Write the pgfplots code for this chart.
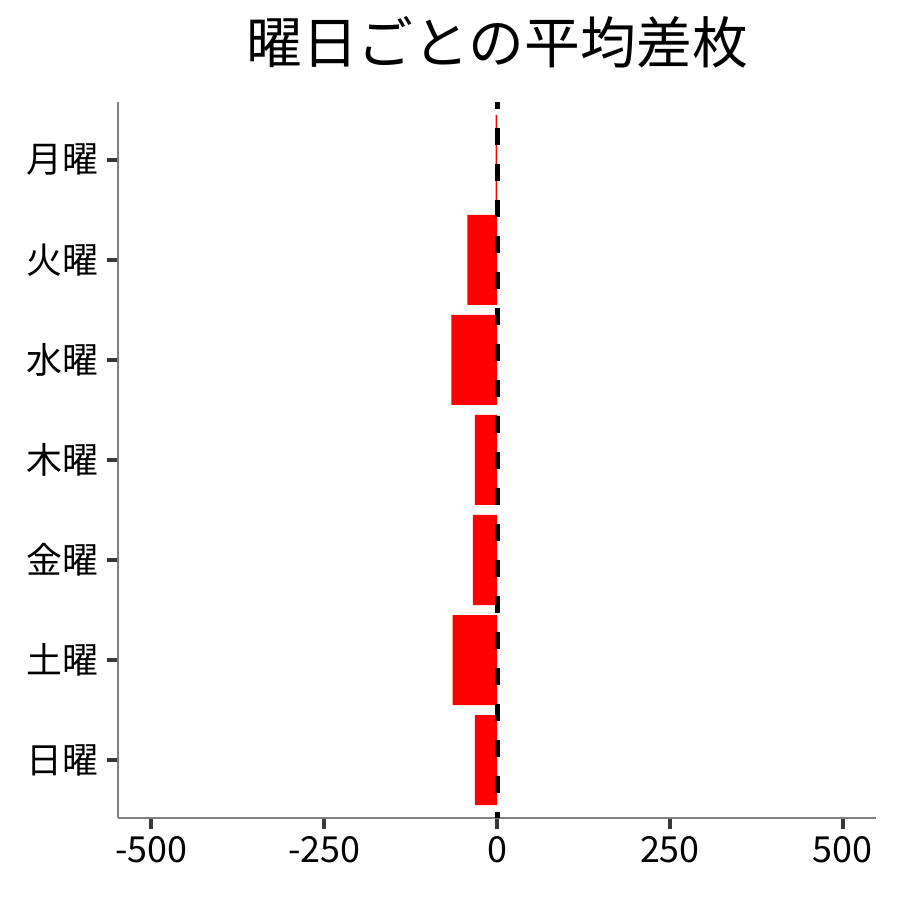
\documentclass[border=0pt]{standalone}
\usepackage{fontspec}
\setmainfont{Noto Sans CJK JP}
\usepackage{pgfplots}
\pgfplotsset{compat=1.18}
\begin{document}
\begin{tikzpicture}[x=1bp,y=1bp]
\path[use as bounding box] (0,0) rectangle (900,900);
\node[anchor=base, font=\fontsize{56}{66}\selectfont] at (497,836) {曜日ごとの平均差枚};
\begin{axis}[
  at={(118bp,82bp)}, anchor=south west,
  scale only axis, width=758bp, height=716bp,
  xmin=-548, xmax=548, ymin=0.42, ymax=7.58,
  y dir=reverse,
  axis x line*=bottom, axis y line*=left,
  axis line style={draw=black!50, line width=1.3bp, -},
  xtick={-500,-250,0,250,500},
  xticklabels={-500,-250,0,250,500},
  ytick={1,2,3,4,5,6,7},
  yticklabels={月曜,火曜,水曜,木曜,金曜,土曜,日曜},
  tick align=outside,
  major tick length=11bp,
  xtick style={draw=black!78, line width=3.6bp},
  ytick style={draw=black!78, line width=3.6bp},
  ticklabel style={font=\fontsize{36}{42}\selectfont},
  /pgf/number format/assume math mode=true,
  xticklabel style={yshift=-4bp},
  yticklabel style={xshift=-5bp},
  clip=false,
]
\addplot[xbar, bar width=0.9, bar shift=0pt, fill=red, draw=none] coordinates {
  (-2,1) (-43,2) (-66,3) (-32,4) (-35,5) (-64,6) (-32,7)
};
\addplot[black, line width=5bp, dash pattern=on 17bp off 19bp, dash phase=10bp] coordinates {(0,0.42) (0,7.58)};
\end{axis}
\end{tikzpicture}
\end{document}
